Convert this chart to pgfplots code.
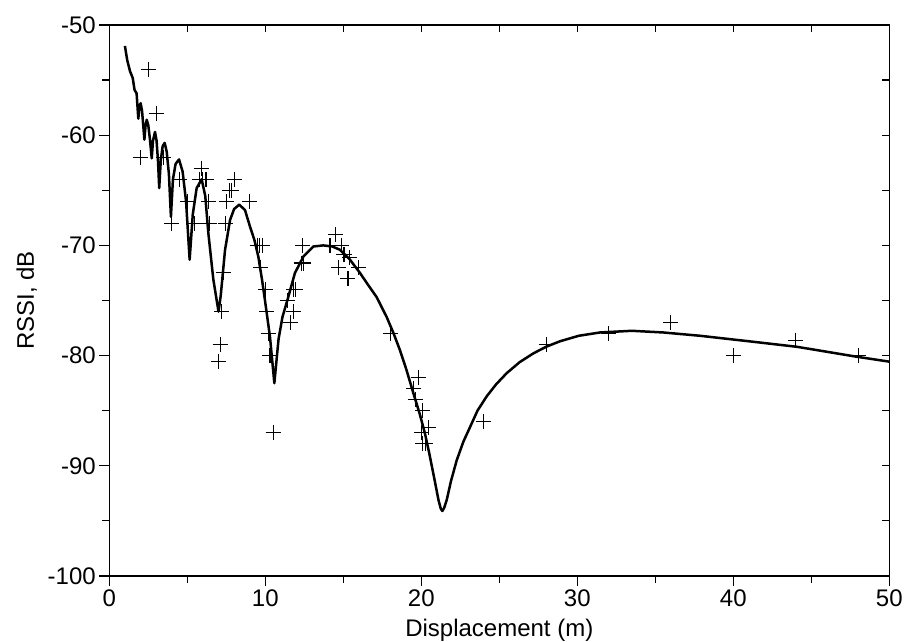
\documentclass[border=0pt]{standalone}
\usepackage{pgfplots}
\pgfplotsset{compat=1.18}
\usepackage{fontspec}
\setmainfont{Liberation Sans}
\begin{document}
\begin{tikzpicture}
\path[use as bounding box] (-109.3pt,-66pt) rectangle (795.7pt,576pt);
\pgfplotsset{
  myaxis/.style={
    scale only axis, width=780pt, height=551pt, at={(0,0)}, anchor=south west,
    xmin=0, xmax=50, ymin=-100, ymax=-50,
    xtick={0,10,...,50}, minor xtick={5,15,...,45},
    ytick={-100,-90,...,-50}, minor ytick={-95,-85,...,-55},
    axis line style={line width=1.4pt},
    tick style={black, line width=1.2pt},
  }
}
\begin{axis}[myaxis,
  tick align=outside, tick pos=lower,
  major tick length=10pt, minor tick length=7pt,
  xticklabels={0,10,20,30,40,50},
  yticklabels={-100,-90,-80,-70,-60,-50},
  ticklabel style={font=\fontsize{24}{28}\selectfont},
  xlabel={Displacement (m)}, ylabel={RSSI, dB},
  label style={font=\fontsize{24}{28}\selectfont},
  xlabel style={at={(axis description cs:0.5,-0.098)},anchor=center},
  ylabel style={at={(axis description cs:-0.106,0.5)},anchor=center},
]
\addplot[black, line width=2.5pt, line join=round, no marks] coordinates {
(1.0,-51.9) (1.15,-53.2) (1.33,-54.2) (1.5,-54.8) (1.62,-55.9) (1.75,-56.2)
(1.86,-58.5) (1.93,-57.4) (2.01,-57.1) (2.1,-57.8) (2.25,-60.4) (2.32,-59.2)
(2.4,-58.6) (2.5,-59.1) (2.6,-60.3) (2.72,-62.1) (2.8,-60.5) (2.93,-59.7)
(3.03,-60.5) (3.12,-62.3) (3.2,-64.8) (3.3,-62.3) (3.42,-61.0) (3.55,-60.7)
(3.68,-61.5) (3.82,-63.5) (3.95,-67.4) (4.08,-64.0) (4.25,-62.6) (4.47,-62.2)
(4.7,-63.3) (4.92,-66.0) (5.15,-71.3) (5.35,-67.2) (5.6,-64.8) (5.92,-64.0)
(6.15,-65.5) (6.35,-68.9) (6.67,-73.1) (7.0,-76.0) (7.14,-74.6) (7.42,-70.4)
(7.74,-67.7) (8.0,-66.7) (8.33,-66.3) (8.7,-66.8) (9.02,-68.3) (9.3,-69.5)
(9.55,-71.0) (9.8,-73.2) (9.98,-75.0) (10.3,-78.3) (10.58,-82.5) (10.85,-78.5)
(11.1,-76.5) (11.47,-74.7) (11.9,-72.5) (12.45,-71.0) (13.08,-70.1) (13.72,-70.0)
(14.3,-70.1) (14.79,-70.4) (15.43,-71.3) (16.07,-72.5) (16.5,-73.4) (17.14,-74.7)
(17.78,-76.5) (18.2,-77.9) (18.63,-79.5) (19.05,-81.3) (19.49,-83.4) (19.9,-85.3)
(20.24,-87.1) (20.5,-88.8) (20.77,-90.7) (20.95,-92.0) (21.1,-93.1) (21.25,-93.9)
(21.35,-94.1) (21.47,-93.8) (21.63,-93.1) (21.9,-91.4) (22.27,-89.5) (22.7,-87.8)
(23.12,-86.5) (23.6,-85.0) (24.19,-83.7) (24.8,-82.6) (25.47,-81.6) (26.3,-80.6)
(27.18,-79.8) (28.0,-79.2) (28.89,-78.7) (30.1,-78.2) (31.46,-77.9) (33.5,-77.75)
(35.5,-77.9) (37.86,-78.2) (41.0,-78.7) (44.07,-79.2) (47.9,-80.1) (50.0,-80.55)
};
\addplot[black, line width=1.1pt, only marks, mark=+, mark size=7.5pt] coordinates {
(2.5,-54) (3,-58) (2,-62) (3.5,-62) (4.5,-64) (4,-68) (5.9,-63)
(5.8,-64) (6.0,-64) (6.2,-64) (5.0,-66) (6.35,-66)
(5.45,-68) (6.45,-68) (7.46,-68) (8,-64) (7.7,-65) (7.85,-65)
(7.5,-66) (9,-66) (7.3,-72.5) (7.2,-76) (7.1,-79) (7.0,-80.5)
(9.5,-70) (9.65,-70) (9.8,-70) (9.7,-72) (10,-74) (10.1,-76) (10.2,-78)
(10.3,-80) (10.5,-87) (11.4,-75) (11.6,-77) (11.8,-76) (11.8,-74) (11.95,-74)
(12.3,-71.6) (12.45,-71.6) (12.4,-70) (14.5,-69) (14.15,-70) (14.9,-70)
(15,-70.8) (15.1,-70.8) (15.4,-71.1) (14.7,-72) (16,-72) (15.3,-73)
(18,-78) (19.8,-82) (19.5,-83) (19.6,-84) (20.1,-85) (20.45,-86.5) (20,-87)
(20.1,-88) (20.25,-88) (24,-86) (28,-79) (32,-78) (36,-77) (40,-80)
(44,-78.6) (48,-80)
};
\end{axis}
\begin{axis}[myaxis,
  tick align=inside, tick pos=upper,
  major tick length=7pt, minor tick length=7pt,
  xticklabels={}, yticklabels={},
]
\end{axis}
\end{tikzpicture}
\end{document}
